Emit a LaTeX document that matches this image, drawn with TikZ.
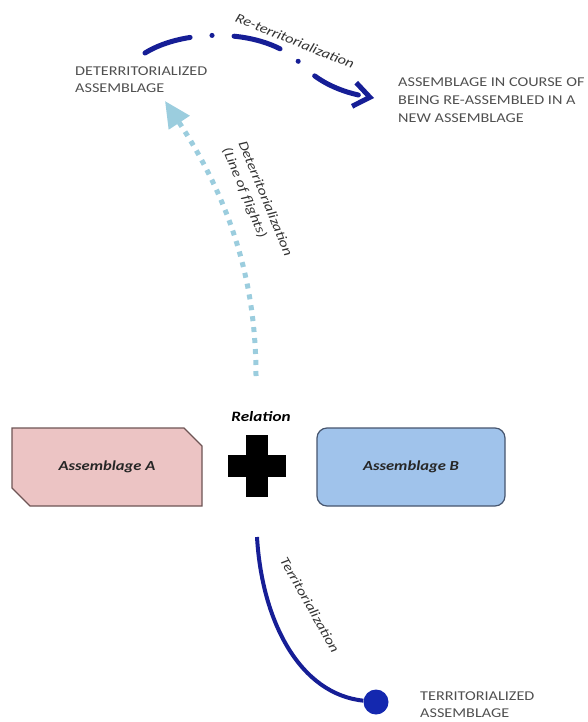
\documentclass[tikz,border=0pt]{standalone}
\usepackage{fontspec}
\setmainfont[FakeStretch=1.2]{Carlito}
\usepackage{tikz}
\usetikzlibrary{arrows.meta,shapes.misc}

\definecolor{navyline}{RGB}{22,30,150}
\definecolor{dotblue}{RGB}{20,40,175}
\definecolor{flightblue}{RGB}{155,205,222}
\definecolor{pinkfill}{RGB}{236,196,196}
\definecolor{pinkedge}{RGB}{110,85,85}
\definecolor{bluefill}{RGB}{160,195,235}
\definecolor{blueedge}{RGB}{70,85,110}
\definecolor{capsgray}{RGB}{80,80,80}

\tikzset{
  capslabel/.style={font=\fontsize{13.5}{17}\selectfont, text=capsgray, align=left, anchor=west, inner sep=0pt},
  flowlabel/.style={font=\fontsize{13.4}{17}\selectfont\itshape, text=black!80, inner sep=0pt},
  assemblage/.style={minimum width=190pt, minimum height=78pt, inner sep=0pt, line width=1.2pt,
    font=\fontsize{13.8}{16}\selectfont\bfseries\itshape, text=black!85}
}

\begin{document}
\begin{tikzpicture}[x=1pt,y=-1pt]
			%%%%% START %%%%%
			\useasboundingbox (0,0) rectangle (588,722);
			
			\node[assemblage, chamfered rectangle, chamfered rectangle corners={north east,south west},
			  chamfered rectangle xsep=12pt, chamfered rectangle ysep=12pt, fill=pinkfill, draw=pinkedge] (asmA) at (107,467) {Assemblage A};
			\node[assemblage, rounded corners=10pt, minimum width=188pt, fill=bluefill, draw=blueedge] (asmB) at (411,467) {Assemblage B};
			
			\node[font=\fontsize{14.3}{16}\selectfont\bfseries\itshape, inner sep=0pt] (rel) at (261,417) {Relation};
			\coordinate (plus) at (257,466);
			\fill (plus) ++(-29,-11) rectangle ++(58,22);
			\fill (plus) ++(-11,-31) rectangle ++(22,62);
			
			\node[capslabel] (deterr) at (75,79.5) {DETERRITORIALIZED\\ASSEMBLAGE};
			\node[capslabel, font=\fontsize{13.5}{18}\selectfont] (reasm) at (398,100) {ASSEMBLAGE IN COURSE OF\\BEING RE-ASSEMBLED IN A\\NEW ASSEMBLAGE};
			\node[capslabel] (terr) at (420,705) {TERRITORIALIZED\\ASSEMBLAGE};
			
			% line of flight
			\coordinate (flightStart) at (256,376);
			\coordinate (flightEnd) at (165,101);
			\draw[flightblue, line width=5pt, dash pattern=on 5pt off 6pt, -{Triangle[length=26pt,width=24pt]}]
			  (flightStart) .. controls (256,300) and (240,215) .. (flightEnd);
			\node[flowlabel, rotate=-67.7, align=left] (flightlbl) at (257,202) {Deterritorialization\\(Line of flights)};
			
			% re-territorialization
			\coordinate (reStart) at (145,53);
			\coordinate (reEnd) at (374,98);
			\draw[navyline, line width=5pt, line cap=round, dash pattern=on 48pt off 22pt on 0.1pt off 22pt,
			  -{Straight Barb[length=16pt,width=24pt]}]
			  (reStart) .. controls (185,28) and (265,28) .. (300,63) .. controls (318,82) and (340,92) .. (reEnd);
			\node[flowlabel, rotate=-21.8] (relbl) at (295,41) {Re-territorialization};
			
			% territorialization
			\coordinate (terrStart) at (257,537);
			\node[circle, fill=dotblue, minimum size=25pt, inner sep=0pt] (terrDot) at (376,702) {};
			\draw[navyline, line width=4pt] (terrStart) .. controls (262,622) and (300,694) .. (terrDot);
			
			\node[flowlabel, rotate=-60.6] (terrlbl) at (310,605) {Territorialization};
			
			%%%%% END %%%%%
\end{tikzpicture}
\end{document}
